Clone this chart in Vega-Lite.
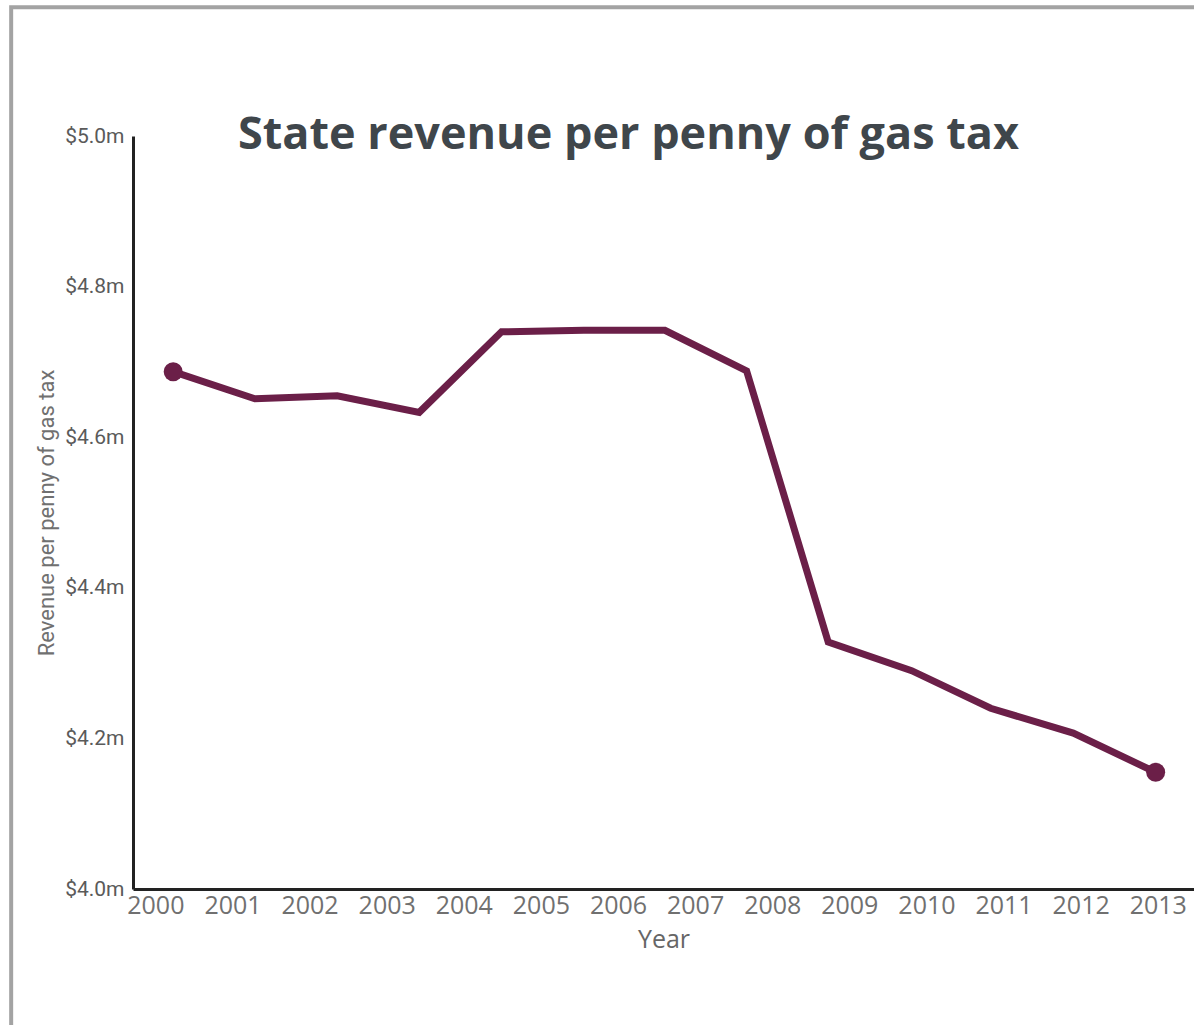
{
  "$schema": "https://vega.github.io/schema/vega-lite/v6.json",
  "width": 1061,
  "height": 753,
  "autosize": {"type": "none"},
  "padding": {"left": 133, "top": 136, "right": 0, "bottom": 136},
  "background": "white",
  "config": {
    "view": {"stroke": null},
    "axis": {"grid": false},
    "axisX": {
      "labelFont": "Open Sans",
      "labelFontSize": 25,
      "labelColor": "#707070",
      "labelOverlap": false,
      "labelFlush": false,
      "labelPadding": 4,
      "ticks": false,
      "domainColor": "#222222",
      "domainWidth": 3,
      "titleFont": "Open Sans",
      "titleFontSize": 25,
      "titleFontWeight": "normal",
      "titleColor": "#666666",
      "titlePadding": 9
    },
    "axisY": {
      "labelFont": "Roboto",
      "labelFontSize": 21,
      "labelColor": "#5a5a5a",
      "labelPadding": 9,
      "ticks": false,
      "domainColor": "#222222",
      "domainWidth": 3,
      "titleFont": "Roboto",
      "titleFontSize": 22,
      "titleFontWeight": "normal",
      "titleColor": "#707070",
      "titlePadding": 6
    }
  },
  "title": {
    "text": "State revenue per penny of gas tax",
    "font": "Open Sans",
    "fontSize": 45,
    "fontWeight": 700,
    "color": "#3f464b",
    "anchor": "middle",
    "frame": "group",
    "dx": -35,
    "dy": 128,
    "offset": -25
  },
  "data": {
    "values": [
      {"year": 2000.231, "revenue": 4.687},
      {"year": 2001.291, "revenue": 4.651},
      {"year": 2002.358, "revenue": 4.655},
      {"year": 2003.422, "revenue": 4.633},
      {"year": 2004.490, "revenue": 4.740},
      {"year": 2005.558, "revenue": 4.742},
      {"year": 2006.608, "revenue": 4.742},
      {"year": 2007.668, "revenue": 4.688},
      {"year": 2008.726, "revenue": 4.328},
      {"year": 2009.808, "revenue": 4.290},
      {"year": 2010.833, "revenue": 4.240},
      {"year": 2011.904, "revenue": 4.207},
      {"year": 2012.973, "revenue": 4.155}
    ]
  },
  "layer": [
    {
      "data": {"values": [{}]},
      "mark": {"type": "rect", "fill": null, "stroke": "#a3a3a3", "strokeWidth": 4},
      "encoding": {
        "x": {"datum": 1998.13, "type": "quantitative", "title": "Year", "scale": {"domain": [1999.71, 2013.47], "nice": false, "zero": false}},
        "x2": {"datum": 2015},
        "y": {"datum": 5.171, "type": "quantitative", "title": "Revenue per penny of gas tax", "scale": {"domain": [4.0, 5.0], "nice": false, "zero": false}},
        "y2": {"datum": 3.7}
      }
    },
    {
      "mark": {"type": "line", "color": "#6b1f48", "strokeWidth": 7, "strokeJoin": "miter"},
      "encoding": {
        "x": {
          "field": "year",
          "type": "quantitative",
          "title": "Year",
          "scale": {"domain": [1999.71, 2013.47], "nice": false, "zero": false},
          "axis": {
            "values": [2000, 2001, 2002, 2003, 2004, 2005, 2006, 2007, 2008, 2009, 2010, 2011, 2012, 2013],
            "format": "d"
          }
        },
        "y": {
          "field": "revenue",
          "type": "quantitative",
          "title": "Revenue per penny of gas tax",
          "scale": {"domain": [4.0, 5.0], "nice": false, "zero": false},
          "axis": {
            "values": [4.0, 4.2, 4.4, 4.6, 4.8, 5.0],
            "labelExpr": "'$' + format(datum.value, '.1f') + 'm'"
          }
        }
      }
    },
    {
      "transform": [{"filter": "datum.year < 2001 || datum.year > 2012"}],
      "mark": {"type": "circle", "color": "#6b1f48", "opacity": 1, "size": 361},
      "encoding": {
        "x": {"field": "year", "type": "quantitative", "title": "Year"},
        "y": {"field": "revenue", "type": "quantitative", "title": "Revenue per penny of gas tax"}
      }
    }
  ]
}
